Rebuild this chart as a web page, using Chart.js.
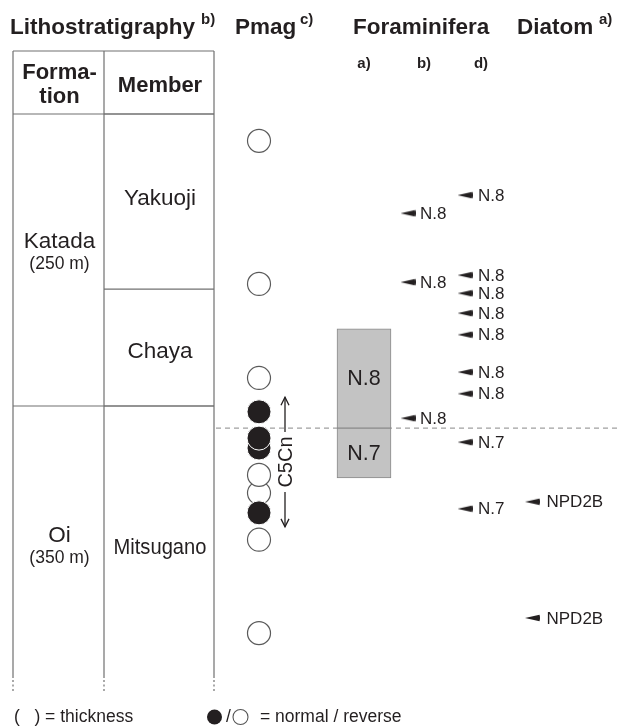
<!DOCTYPE html>
<html>
<head>
<meta charset="utf-8">
<script src="https://cdn.jsdelivr.net/npm/chart.js@4.4.1/dist/chart.umd.min.js"></script>
<style>
  html, body { margin: 0; padding: 0; background: #fff; }
  #c { display: block; }
</style>
</head>
<body>
<canvas id="c" width="619" height="726"></canvas>
<script>
// Heights are metres above the Katada / Oi formation boundary (positive = upward).

// Lithostratigraphy
const formationNames = ['Katada', 'Oi'];
const formationThickness = ['(250 m)', '(350 m)'];
const formationTop = [250, 0];
const formationBase = [0, -350];
const memberNames = ['Yakuoji', 'Chaya', 'Mitsugano'];
const memberTop = [250, 100, 0];
const memberBase = [100, 0, -350];

// Paleomagnetic sites, listed from the bottom up (1 = normal, 0 = reverse)
const pmagHeight   = [-194.5, -114.5, -91.5, -74.5, -59, -36, -27.5, -5, 24, 104.5, 227];
const pmagPolarity = [0, 0, 1, 0, 0, 1, 1, 1, 0, 0, 0];

// Polarity chron interval
const chronName = 'C5Cn';
const chronTop = 7.5;
const chronBase = -103.5;

// Planktonic foraminiferal zones, source a)
const foramAZones = ['N.8', 'N.7'];
const foramATop = [66, -19];
const foramABase = [-19, -61.5];
const zoneBoundary = -19;

// Foraminiferal datum levels, source b)
const foramBHeight = [165, 106, -10.5];
const foramBZone = ['N.8', 'N.8', 'N.8'];

// Foraminiferal datum levels, source d)
const foramDHeight = [180.5, 112, 96.5, 79.5, 61, 29, 10.5, -31, -88];
const foramDZone = ['N.8', 'N.8', 'N.8', 'N.8', 'N.8', 'N.8', 'N.8', 'N.7', 'N.7'];

// Diatom zones
const diatomHeight = [-82, -181.5];
const diatomZone = ['NPD2B', 'NPD2B'];

// ---- layout ----
const FONT = "'Liberation Sans', Arial, Helvetica, sans-serif";
const INK = '#231f20';
const COL = { tableL: 13, tableM: 104, tableR: 214, pmag: 259, chron: 285,
              foramA: 364, foramB: 408, foramD: 465, diatom: 532.5 };
const HEADER_TOP = 51;          // px, top of the table header row
const SECTION_CUT = -233;       // lowest height drawn as a solid column
const Y_MIN = -274, Y_MAX = 347.6;
const FORMATION_LABEL_SHIFT = [-8, 4];   // px nudges of the unit names
const MEMBER_LABEL_SHIFT = [-3, 4, 6];

// Left-pointing wedge used as the datum marker
const wedge = document.createElement('canvas');
wedge.width = 15; wedge.height = 8;
(function () {
  const w = wedge.getContext('2d');
  w.fillStyle = INK;
  w.beginPath();
  w.moveTo(0, 4);
  w.lineTo(14.5, 0.8);
  w.quadraticCurveTo(15.5, 4, 14.5, 7.2);
  w.closePath();
  w.fill();
})();

const pts = (x, hs) => hs.map(h => ({ x: x, y: h }));
const reverseSites = pmagHeight.filter((h, i) => pmagPolarity[i] === 0);
const normalSites = pmagHeight.filter((h, i) => pmagPolarity[i] === 1);

function txt(ctx, s, x, y, size, bold, align, base, maxW) {
  ctx.font = (bold ? 'bold ' : '') + size + 'px ' + FONT;
  ctx.textAlign = align || 'center';
  ctx.textBaseline = base || 'middle';
  ctx.fillStyle = INK;
  if (maxW) ctx.fillText(s, x, y, maxW); else ctx.fillText(s, x, y);
}

function vArrowHead(ctx, x, y, dir) {
  ctx.beginPath();
  ctx.moveTo(x - 4, y - dir * 8);
  ctx.lineTo(x, y);
  ctx.lineTo(x + 4, y - dir * 8);
  ctx.stroke();
}

const stratPlugin = {
  id: 'strat',
  beforeDatasetsDraw(chart) {
    const ctx = chart.ctx;
    const ys = chart.scales.y;
    const py = v => ys.getPixelForValue(v);
    const cut = py(SECTION_CUT);
    ctx.save();
    ctx.strokeStyle = '#707070';
    ctx.lineWidth = 1.2;
    // column verticals, solid then dotted where the section continues
    [COL.tableL, COL.tableM, COL.tableR].forEach(x => {
      ctx.setLineDash([]);
      ctx.beginPath(); ctx.moveTo(x, HEADER_TOP); ctx.lineTo(x, cut); ctx.stroke();
      ctx.setLineDash([2, 2.5]);
      ctx.beginPath(); ctx.moveTo(x, cut + 2); ctx.lineTo(x, cut + 15); ctx.stroke();
    });
    ctx.setLineDash([]);
    // header top
    ctx.beginPath(); ctx.moveTo(COL.tableL, HEADER_TOP); ctx.lineTo(COL.tableR, HEADER_TOP); ctx.stroke();
    // formation boundaries (full width)
    formationTop.forEach(h => {
      ctx.beginPath(); ctx.moveTo(COL.tableL, py(h)); ctx.lineTo(COL.tableR, py(h)); ctx.stroke();
    });
    // member boundaries (member column)
    memberTop.forEach(h => {
      ctx.beginPath(); ctx.moveTo(COL.tableM, py(h)); ctx.lineTo(COL.tableR, py(h)); ctx.stroke();
    });
    ctx.restore();
  },
  afterDatasetsDraw(chart) {
    const ctx = chart.ctx;
    const ys = chart.scales.y;
    const py = v => ys.getPixelForValue(v);
    const cut = py(SECTION_CUT);
    ctx.save();

    // column titles
    txt(ctx, 'Lithostratigraphy', 10, 34, 22.5, true, 'left', 'alphabetic');
    txt(ctx, 'b)', 201, 24, 15, true, 'left', 'alphabetic');
    txt(ctx, 'Pmag', 235, 34, 22.5, true, 'left', 'alphabetic');
    txt(ctx, 'c)', 300, 24, 15, true, 'left', 'alphabetic');
    txt(ctx, 'Foraminifera', 353, 34, 22.5, true, 'left', 'alphabetic');
    txt(ctx, 'Diatom', 517, 34, 22.5, true, 'left', 'alphabetic');
    txt(ctx, 'a)', 599, 24, 15, true, 'left', 'alphabetic');
    txt(ctx, 'a)', 364, 68, 15, true, 'center', 'alphabetic');
    txt(ctx, 'b)', 424, 68, 15, true, 'center', 'alphabetic');
    txt(ctx, 'd)', 481, 68, 15, true, 'center', 'alphabetic');

    // table header
    const midF = (COL.tableL + COL.tableM) / 2 + 1;
    const midM = (COL.tableM + COL.tableR) / 2 + 1;
    txt(ctx, 'Forma-', midF, 73, 22, true);
    txt(ctx, 'tion', midF, 97, 22, true);
    txt(ctx, 'Member', midM, 86, 22, true);

    // formation and member names
    formationNames.forEach((n, i) => {
      const c = (py(formationTop[i]) + Math.min(py(formationBase[i]), cut)) / 2 + FORMATION_LABEL_SHIFT[i];
      txt(ctx, n, midF, c - 10, 22.5, false);
      txt(ctx, formationThickness[i], midF, c + 12, 17.5, false);
    });
    memberNames.forEach((n, i) => {
      const c = (py(memberTop[i]) + Math.min(py(memberBase[i]), cut)) / 2 + MEMBER_LABEL_SHIFT[i];
      txt(ctx, n, midM, c, 22.5, false, 'center', 'middle', COL.tableR - COL.tableM - 17);
    });

    // foraminiferal zone names inside the range bars
    foramAZones.forEach((z, i) => {
      txt(ctx, z, COL.foramA, (py(foramATop[i]) + py(foramABase[i])) / 2 + 1, 21.5, false);
    });

    // datum labels next to the wedges
    const lab = (x, hs, zs) => hs.forEach((h, i) => txt(ctx, zs[i], x, py(h) + 1, 17, false, 'left'));
    lab(COL.foramB + 12, foramBHeight, foramBZone);
    lab(COL.foramD + 13, foramDHeight, foramDZone);
    lab(COL.diatom + 14, diatomHeight, diatomZone);

    // polarity chron with arrows
    const yT = py(chronTop), yB = py(chronBase), yM = (yT + yB) / 2;
    ctx.strokeStyle = INK;
    ctx.lineWidth = 1.3;
    ctx.beginPath(); ctx.moveTo(COL.chron, yT); ctx.lineTo(COL.chron, yM - 30); ctx.stroke();
    ctx.beginPath(); ctx.moveTo(COL.chron, yM + 30); ctx.lineTo(COL.chron, yB); ctx.stroke();
    vArrowHead(ctx, COL.chron, yT, -1);
    vArrowHead(ctx, COL.chron, yB, 1);
    ctx.save();
    ctx.translate(COL.chron + 1, yM);
    ctx.rotate(-Math.PI / 2);
    txt(ctx, chronName, 0, 0, 20, false);
    ctx.restore();

    // key
    txt(ctx, '(   ) = thickness', 14, 717, 17.5, false, 'left');
    ctx.fillStyle = INK;
    ctx.beginPath(); ctx.arc(214.5, 717, 7.5, 0, Math.PI * 2); ctx.fill();
    txt(ctx, '/', 226, 717, 17.5, false, 'left');
    ctx.strokeStyle = '#555';
    ctx.lineWidth = 1.1;
    ctx.beginPath(); ctx.arc(240.5, 717, 7.5, 0, Math.PI * 2); ctx.stroke();
    txt(ctx, '= normal / reverse', 260, 717, 17.5, false, 'left');

    ctx.restore();
  }
};

new Chart(document.getElementById('c'), {
  type: 'scatter',
  data: {
    datasets: [
      {
        label: 'N.7/N.8 boundary',
        type: 'scatter',
        showLine: true,
        data: [{ x: 216, y: zoneBoundary }, { x: 619, y: zoneBoundary }],
        borderColor: '#a0a0a0',
        borderWidth: 1.2,
        borderDash: [5, 4],
        pointRadius: 0,
        order: 10
      },
      {
        label: 'Foraminifera a)',
        type: 'bar',
        data: foramAZones.map((z, i) => ({ x: COL.foramA, y: [foramABase[i], foramATop[i]] })),
        backgroundColor: '#c3c3c3',
        borderColor: '#8a8a8a',
        borderWidth: 1,
        borderSkipped: false,
        barThickness: 54,
        grouped: false,
        order: 6
      },
      {
        label: 'Reverse',
        data: pts(COL.pmag, reverseSites),
        pointStyle: 'circle',
        pointRadius: 11.5,
        backgroundColor: '#ffffff',
        borderColor: '#5a5a5a',
        borderWidth: 1.2,
        order: 4
      },
      {
        label: 'Normal',
        data: pts(COL.pmag, normalSites),
        pointStyle: 'circle',
        pointRadius: 12,
        backgroundColor: INK,
        borderColor: '#ffffff',
        borderWidth: 1,
        order: 3
      },
      { label: 'Foraminifera b)', data: pts(COL.foramB, foramBHeight), pointStyle: wedge, order: 1 },
      { label: 'Foraminifera d)', data: pts(COL.foramD, foramDHeight), pointStyle: wedge, order: 1 },
      { label: 'Diatom', data: pts(COL.diatom, diatomHeight), pointStyle: wedge, order: 1 }
    ]
  },
  options: {
    responsive: false,
    animation: false,
    devicePixelRatio: 1,
    layout: { padding: 0, autoPadding: false },
    events: [],
    plugins: { legend: { display: false }, tooltip: { enabled: false } },
    scales: {
      x: { type: 'linear', min: 0, max: 619, display: false, offset: false },
      y: { type: 'linear', min: Y_MIN, max: Y_MAX, display: false, offset: false }
    }
  },
  plugins: [stratPlugin]
});
</script>
</body>
</html>
